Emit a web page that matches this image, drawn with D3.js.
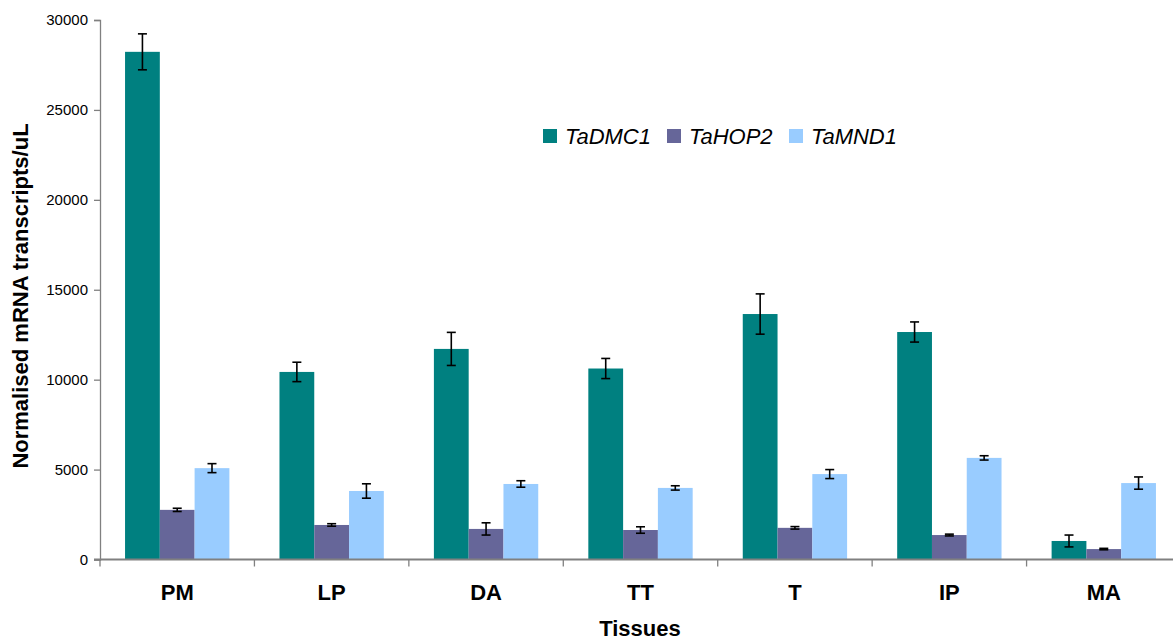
<!DOCTYPE html>
<html>
<head>
<meta charset="utf-8">
<script src="https://cdn.jsdelivr.net/npm/d3@7"></script>
<style>
  html, body { margin: 0; padding: 0; background: #fff; }
  svg { display: block; font-family: "Liberation Sans", Arial, sans-serif; }
</style>
</head>
<body>
<svg id="chart" width="1173" height="640"></svg>
<script>
// Tissues on the x axis
const tissues = ["PM", "LP", "DA", "TT", "T", "IP", "MA"];
// Genes (series)
const genes = ["TaDMC1", "TaHOP2", "TaMND1"];
const geneColors = ["#008080", "#666699", "#99CCFF"];

// Mean normalised transcripts/uL per tissue
const taDMC1 = [28230, 10430, 11710, 10620, 13650, 12650, 1030];
const taHOP2 = [2760, 1920, 1700, 1640, 1760, 1360, 580];
const taMND1 = [5080, 3810, 4200, 3980, 4750, 5650, 4250];

// Error bar half-widths
const taDMC1Err = [1000, 540, 920, 560, 1120, 560, 330];
const taHOP2Err = [90, 70, 340, 180, 70, 50, 40];
const taMND1Err = [250, 400, 180, 120, 250, 120, 340];

const yTicks = [0, 5000, 10000, 15000, 20000, 25000, 30000];

const values = [taDMC1, taHOP2, taMND1];
const errors = [taDMC1Err, taHOP2Err, taMND1Err];

const svg = d3.select("#chart");
const margin = { left: 100, top: 20, bottom: 559.5 };
const plotRight = 1181;

const x = d3.scaleBand().domain(tissues).range([margin.left, plotRight]).padding(0);
const inner = d3.scaleBand().domain(genes)
  .range([0, x.bandwidth()]).paddingOuter(0.72).paddingInner(0);
const y = d3.scaleLinear().domain([0, 30000]).range([margin.bottom, margin.top]);

// Bars
const rows = [];
tissues.forEach((t, i) => {
  genes.forEach((g, j) => {
    rows.push({ tissue: t, gene: g, color: geneColors[j], v: values[j][i], e: errors[j][i] });
  });
});

svg.append("g").selectAll("rect").data(rows).join("rect")
  .attr("x", d => x(d.tissue) + inner(d.gene))
  .attr("width", inner.bandwidth())
  .attr("y", d => y(d.v))
  .attr("height", d => y(0) - y(d.v))
  .attr("fill", d => d.color);

// Error bars
const eb = svg.append("g").attr("stroke", "#000").attr("stroke-width", 1.6);
rows.forEach(d => {
  const cx = x(d.tissue) + inner(d.gene) + inner.bandwidth() / 2;
  const y1 = y(d.v + d.e), y2 = y(d.v - d.e);
  eb.append("line").attr("x1", cx).attr("x2", cx).attr("y1", y1).attr("y2", y2);
  eb.append("line").attr("x1", cx - 4.5).attr("x2", cx + 4.5).attr("y1", y1).attr("y2", y1);
  eb.append("line").attr("x1", cx - 4.5).attr("x2", cx + 4.5).attr("y1", y2).attr("y2", y2);
});

// Y axis
const yAxis = svg.append("g")
  .attr("transform", `translate(${margin.left},0)`)
  .call(d3.axisLeft(y).tickValues(yTicks).tickSize(6).tickPadding(6).tickFormat(d3.format("d")));
yAxis.select(".domain").attr("stroke", "#808080").attr("stroke-width", 1.3);
yAxis.selectAll(".tick line").attr("stroke", "#808080").attr("stroke-width", 1.3);
yAxis.selectAll(".tick text").attr("font-size", 15).attr("fill", "#000")
  .attr("font-family", "Liberation Sans, Arial, sans-serif");

// X axis baseline and boundary ticks
const xg = svg.append("g");
xg.append("line").attr("x1", margin.left - 6).attr("x2", plotRight)
  .attr("y1", y(0)).attr("y2", y(0)).attr("stroke", "#808080").attr("stroke-width", 2);
const boundaries = tissues.map(t => x(t)).concat([plotRight]);
xg.selectAll("line.b").data(boundaries).join("line").attr("class", "b")
  .attr("x1", d => d).attr("x2", d => d)
  .attr("y1", y(0)).attr("y2", y(0) + 7)
  .attr("stroke", "#808080").attr("stroke-width", 1.3);
xg.selectAll("text").data(tissues).join("text")
  .attr("x", d => x(d) + x.bandwidth() / 2)
  .attr("y", 600)
  .attr("text-anchor", "middle")
  .attr("font-size", 22).attr("font-weight", "bold")
  .text(d => d);

// Axis titles
svg.append("text")
  .attr("x", 640).attr("y", 636)
  .attr("text-anchor", "middle").attr("font-size", 22).attr("font-weight", "bold")
  .text("Tissues");
svg.append("text")
  .attr("transform", `translate(28,296) rotate(-90)`)
  .attr("text-anchor", "middle").attr("font-size", 22).attr("font-weight", "bold")
  .text("Normalised mRNA transcripts/uL");

// Legend
const legendX = [543, 667, 789];
const legend = svg.append("g");
genes.forEach((g, j) => {
  legend.append("rect").attr("x", legendX[j]).attr("y", 129)
    .attr("width", 14).attr("height", 14).attr("fill", geneColors[j]);
  legend.append("text").attr("x", legendX[j] + 22).attr("y", 144)
    .attr("font-size", 22).attr("font-style", "italic").text(g);
});
</script>
</body>
</html>
